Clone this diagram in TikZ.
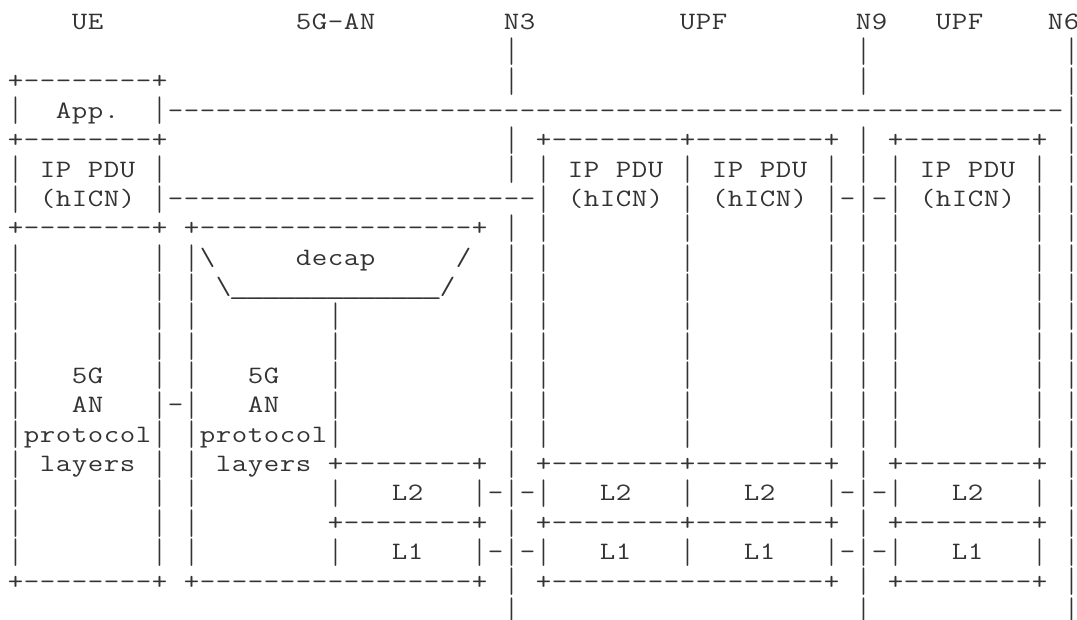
\documentclass[tikz,border=0pt]{standalone}
\usepackage{fontspec}
\usepackage{graphicx}
\newlength\cw \setlength\cw{16pt}
\def\VB{\raisebox{-6.6pt}{\resizebox*{\width}{27.6pt}{\raisebox{\depth}{|}}}}
\def\chr#1{\ifx#1|\VB\else\scalebox{1.2}[1]{#1}\fi}
\def\ml#1{\ifx#1\relax\else\makebox[\cw][c]{\chr{#1}}\expandafter\ml\fi}
\def\US{\scalebox{1.4}[1]{\textunderscore}}
\def\BS{\textbackslash}
\tikzset{txt/.style={anchor=base west, inner sep=0pt, outer sep=0pt, text=black!80,
  font=\fontsize{25pt}{29pt}\selectfont\ttfamily}}
\newcommand\seg[3]{\node[txt] (s#1-#2) at ({7.5pt+#2*16pt},{-22.7pt-#1*29.44pt-7.2pt}) {\ml#3\relax};}
\newcommand\bars[2]{\foreach \c in {#2}{\node[txt] (b#1-\c) at ({7.5pt+\c*16pt},{-22.7pt-#1*29.44pt-7.2pt}) {\ml|\relax};}}
\begin{document}
\begin{tikzpicture}
\useasboundingbox[fill=white] (0,0) rectangle (1077pt,-619pt);
\seg{0}{4}{UE}\seg{0}{18}{5G-AN}\seg{0}{31}{N3}\seg{0}{42}{UPF}\seg{0}{53}{N9}\seg{0}{58}{UPF}\seg{0}{65}{N6}
\bars{1}{31,53,66}
\seg{2}{0}{+--------+}\bars{2}{31,53,66}
\seg{3}{0}{|~~App.~~|}\seg{3}{10}{--------------------------------------------------------}\bars{3}{66}
\seg{4}{0}{+--------+}\bars{4}{31,53,66}\seg{4}{33}{+--------+--------+}\seg{4}{55}{+--------+}
\seg{5}{0}{|~IP~PDU~|}\bars{5}{31,53,66}\seg{5}{33}{|~IP~PDU~|~IP~PDU~|}\seg{5}{55}{|~IP~PDU~|}
\seg{6}{0}{|~(hICN)~|}\seg{6}{10}{-----------------------}\seg{6}{33}{|~(hICN)~|~(hICN)~|-|-|~(hICN)~|}\bars{6}{66}
\seg{7}{0}{+--------+}\seg{7}{11}{+-----------------+}\bars{7}{31,33,42,51,53,55,64,66}
\bars{8}{0,9,31,33,42,51,53,55,64,66}\seg{8}{11}{|\BS}\seg{8}{18}{decap}\seg{8}{28}{/}
\bars{9}{0,9,11,31,33,42,51,53,55,64,66}\seg{9}{13}{\BS\US\US\US\US\US\US\US\US\US\US\US\US\US/}
\bars{10}{0,9,11,20,31,33,42,51,53,55,64,66}
\bars{11}{0,9,11,20,31,33,42,51,53,55,64,66}
\bars{12}{0,9,11,20,31,33,42,51,53,55,64,66}\seg{12}{4}{5G}\seg{12}{15}{5G}
\bars{13}{0,9,11,20,31,33,42,51,53,55,64,66}\seg{13}{4}{AN}\seg{13}{10}{-}\seg{13}{15}{AN}
\bars{14}{0,9,11,20,31,33,42,51,53,55,64,66}\seg{14}{1}{protocol}\seg{14}{12}{protocol}
\bars{15}{0,9,11,31,53,66}\seg{15}{2}{layers}\seg{15}{13}{layers}\seg{15}{20}{+--------+}\seg{15}{33}{+--------+--------+}\seg{15}{55}{+--------+}
\bars{16}{0,9,11,66}\seg{16}{20}{|~~~L2~~~|-|-|~~~L2~~~|~~~L2~~~|-|-|~~~L2~~~|}
\bars{17}{0,9,11,31,53,66}\seg{17}{20}{+--------+}\seg{17}{33}{+--------+--------+}\seg{17}{55}{+--------+}
\bars{18}{0,9,11,66}\seg{18}{20}{|~~~L1~~~|-|-|~~~L1~~~|~~~L1~~~|-|-|~~~L1~~~|}
\seg{19}{0}{+--------+}\seg{19}{11}{+-----------------+}\bars{19}{31,53,66}\seg{19}{33}{+-----------------+}\seg{19}{55}{+--------+}
\bars{20}{31,53,66}
\end{tikzpicture}
\end{document}
